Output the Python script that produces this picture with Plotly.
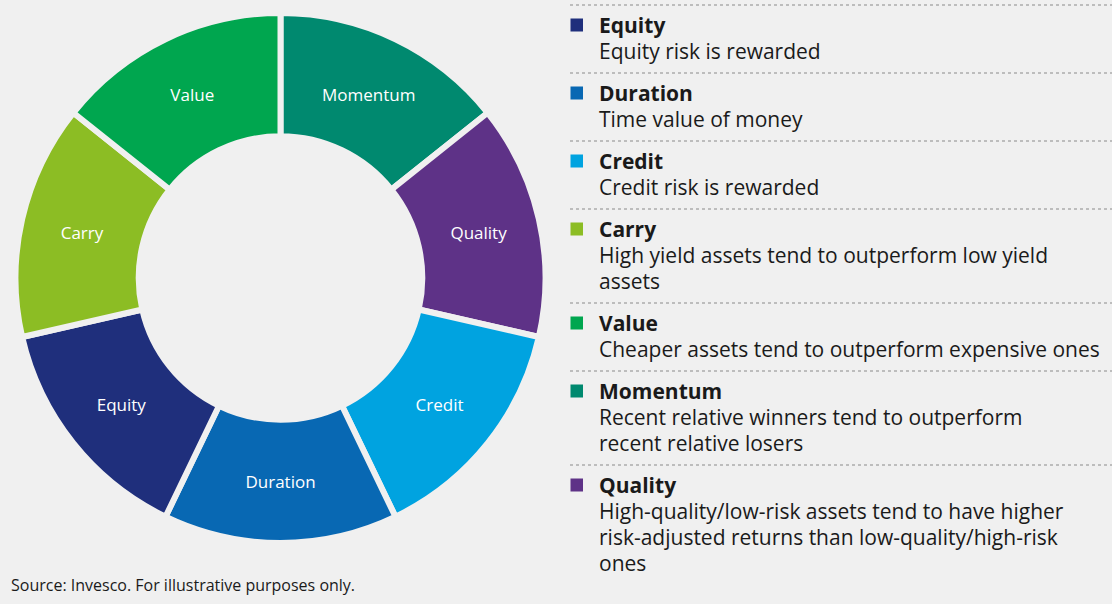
import plotly.graph_objects as go

W, H = 1112, 604
BG = "#f0f0f0"

# legend order
categories = ["Equity", "Duration", "Credit", "Carry", "Value", "Momentum", "Quality"]
descriptions = [
    ["Equity risk is rewarded"],
    ["Time value of money"],
    ["Credit risk is rewarded"],
    ["High yield assets tend to outperform low yield", "assets"],
    ["Cheaper assets tend to outperform expensive ones"],
    ["Recent relative winners tend to outperform", "recent relative losers"],
    ["High-quality/low-risk assets tend to have higher",
     "risk-adjusted returns than low-quality/high-risk", "ones"],
]
colors = ["#1f2f7c", "#0868b3", "#00a3e0", "#8cbd24", "#00a64f", "#00896f", "#5e3287"]

# slice order, clockwise from 12 o'clock
slice_order = ["Momentum", "Quality", "Credit", "Duration", "Equity", "Carry", "Value"]
slice_values = [1, 1, 1, 1, 1, 1, 1]

FONT = "Open Sans"
TEXT = "#1a1a1a"


def px(x):
    return x / W


def py(y):
    return 1 - y / H


color_of = dict(zip(categories, colors))

fig = go.Figure(go.Pie(
    labels=slice_order,
    values=slice_values,
    sort=False,
    direction="clockwise",
    rotation=0,
    hole=0.535,
    textinfo="label",
    textposition="inside",
    insidetextorientation="horizontal",
    textfont=dict(family=FONT, size=17, color="white"),
    marker=dict(colors=[color_of[c] for c in slice_order], line=dict(color=BG, width=6)),
    domain=dict(x=[px(15.5), px(545.5)], y=[py(543), py(13)]),
    hoverinfo="label",
    showlegend=False,
))

annotations = []
shapes = []
title_y = 25
for cat, desc, col in zip(categories, descriptions, colors):
    # dotted separator above each entry
    shapes.append(dict(
        type="line", xref="paper", yref="paper",
        x0=px(570), x1=1, y0=py(title_y - 20), y1=py(title_y - 20),
        line=dict(color="#8a8a8a", width=1, dash="dot"),
    ))
    shapes.append(dict(
        type="rect", xref="paper", yref="paper",
        x0=px(570.5), x1=px(583), y0=py(title_y - 6.5), y1=py(title_y + 6.5),
        fillcolor=col, line=dict(width=0),
    ))
    annotations.append(dict(
        xref="paper", yref="paper", x=px(597), y=py(title_y),
        xanchor="left", yanchor="middle", showarrow=False,
        text=f"<b>{cat}</b>",
        font=dict(family=FONT, size=21, color=TEXT),
    ))
    for i, line in enumerate(desc):
        annotations.append(dict(
            xref="paper", yref="paper", x=px(597), y=py(title_y + 26 * (i + 1)),
            xanchor="left", yanchor="middle", showarrow=False,
            text=line,
            font=dict(family=FONT, size=21, color=TEXT),
        ))
    title_y += 26 * len(desc) + 42

annotations.append(dict(
    xref="paper", yref="paper", x=px(9), y=py(585),
    xanchor="left", yanchor="middle", showarrow=False,
    text="Source: Invesco. For illustrative purposes only.",
    font=dict(family=FONT, size=16, color=TEXT),
))

fig.update_layout(
    width=W, height=H,
    margin=dict(l=0, r=0, t=0, b=0),
    paper_bgcolor=BG, plot_bgcolor=BG,
    annotations=annotations,
    shapes=shapes,
    showlegend=False,
)

fig.write_html(
    "out.html",
    config={"displayModeBar": False},
    post_script="document.body.style.margin='0';document.body.style.background='" + BG + "';",
)
